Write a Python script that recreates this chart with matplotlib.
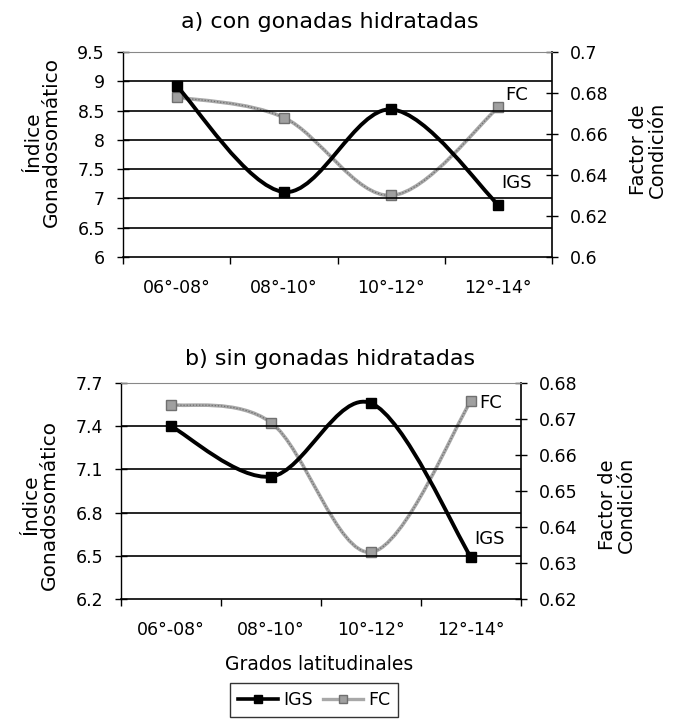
import numpy as np
import matplotlib.pyplot as plt
from matplotlib.path import Path
from matplotlib.patches import PathPatch
from matplotlib.lines import Line2D

plt.rcParams['font.family'] = ['DejaVu Sans']

categorias = ['06°-08°', '08°-10°', '10°-12°', '12°-14°']

# a) con gonadas hidratadas
igs_a = [8.92, 7.11, 8.52, 6.89]
fc_a = [0.678, 0.668, 0.630, 0.673]

# b) sin gonadas hidratadas
igs_b = [7.40, 7.05, 7.56, 6.49]
fc_b = [0.674, 0.669, 0.633, 0.675]

TICK_FS = 12.5


def curva_suave(ax, xs, ys, **kw):
    # linea suavizada tipo Excel (bezier por los puntos)
    pts = np.column_stack([np.asarray(xs, float), np.asarray(ys, float)])
    n = len(pts)
    verts = [pts[0]]
    codes = [Path.MOVETO]
    for i in range(n - 1):
        p0 = pts[max(i - 1, 0)]
        p1 = pts[i]
        p2 = pts[i + 1]
        p3 = pts[min(i + 2, n - 1)]
        verts += [p1 + (p2 - p0) / 6, p2 - (p3 - p1) / 6, p2]
        codes += [Path.CURVE4] * 3
    patch = PathPatch(Path(verts, codes), fill=False, **kw)
    ax.add_patch(patch)
    return patch


def dibujar_fc(ax, x, y):
    curva_suave(ax, x, y, edgecolor='#a8a8a8', lw=2.6, capstyle='round', zorder=3)
    curva_suave(ax, x, y, edgecolor='#6e6e6e', lw=0.9, linestyle=(0, (1, 1.5)), zorder=3)
    ax.plot(x, y, ls='none', marker='s', ms=6.5, mfc='#a0a0a0', mec='#707070', mew=1, zorder=4)


def dibujar_igs(ax, x, y):
    curva_suave(ax, x, y, edgecolor='black', lw=2.8, capstyle='round', zorder=5)
    ax.plot(x, y, ls='none', marker='s', ms=7, color='black', zorder=6)


def panel(pos, igs, fc, ylim, yticks, fclim, fcticks, fcfmt, etq_fc, etq_igs):
    ax = fig.add_axes(pos)
    x = np.arange(len(categorias))
    ax.set_xlim(-0.5, len(categorias) - 0.5)
    ax.set_ylim(*ylim)
    ax.set_yticks(yticks)
    ax.set_yticklabels([f'{v:g}' for v in yticks])
    for v in yticks[1:]:
        ax.axhline(v, color='black', lw=1.2, zorder=1)
    ax.set_xticks(x)
    ax.set_xticklabels(categorias)
    ax.set_xticks(np.arange(-0.5, len(categorias)), minor=True)
    ax.tick_params(axis='x', which='major', length=0, pad=16, labelsize=TICK_FS)
    ax.tick_params(axis='x', which='minor', length=5, width=1, direction='out')
    ax.tick_params(axis='y', length=8, width=1, direction='inout', labelsize=TICK_FS, pad=9)
    ax.spines['top'].set_color('#888888')
    ax.spines['top'].set_linestyle((0, (2, 1)))
    ax.spines['top'].set_linewidth(0.8)
    ax.spines['right'].set_visible(False)
    ax.spines['left'].set_linewidth(1)
    ax.spines['bottom'].set_linewidth(1.2)

    ax2 = ax.twinx()
    ax2.set_ylim(*fclim)
    ax2.set_yticks(fcticks)
    ax2.set_yticklabels([fcfmt.format(v) for v in fcticks])
    ax2.tick_params(axis='y', length=8, width=1, direction='inout', labelsize=TICK_FS, pad=9)
    for s in ['top', 'left', 'bottom']:
        ax2.spines[s].set_visible(False)
    ax2.spines['right'].set_linewidth(1.2)

    dibujar_fc(ax2, x, fc)
    ax.set_zorder(ax2.get_zorder() + 1)
    ax.patch.set_visible(False)
    dibujar_igs(ax, x, igs)

    ax.text(etq_fc[0], etq_fc[1], 'FC', transform=ax.transAxes, fontsize=13,
            ha='center', va='center', zorder=7)
    ax.text(etq_igs[0], etq_igs[1], 'IGS', transform=ax.transAxes, fontsize=13,
            ha='center', va='center', zorder=7)
    return ax


fig = plt.figure(figsize=(6.89, 7.28), dpi=100)
W, H = 689, 728

# panel a
panel([123 / W, 1 - 257 / H, 429 / W, 205 / H], igs_a, fc_a,
      (6, 9.5), [6, 6.5, 7, 7.5, 8, 8.5, 9, 9.5],
      (0.6, 0.7), [0.6, 0.62, 0.64, 0.66, 0.68, 0.7], '{:g}',
      (0.918, 0.79), (0.918, 0.36))
fig.text(330 / W, 1 - 22 / H, 'a) con gonadas hidratadas', ha='center', va='center', fontsize=16)
fig.text(42 / W, 1 - 142 / H, 'Índice\nGonadosomático', rotation=90, ha='center', va='center',
         fontsize=14.5, linespacing=0.95)
fig.text(648 / W, 1 - 150 / H, 'Factor de\nCondición', rotation=90, ha='center', va='center',
         fontsize=14, linespacing=0.95)

# panel b
panel([121 / W, 1 - 599 / H, 400 / W, 216 / H], igs_b, fc_b,
      (6.2, 7.7), [6.2, 6.5, 6.8, 7.1, 7.4, 7.7],
      (0.62, 0.68), [0.62, 0.63, 0.64, 0.65, 0.66, 0.67, 0.68], '{:.2f}',
      (0.924, 0.907), (0.92, 0.28))
fig.text(330 / W, 1 - 359 / H, 'b) sin gonadas hidratadas', ha='center', va='center', fontsize=16)
fig.text(40 / W, 1 - 505 / H, 'Índice\nGonadosomático', rotation=90, ha='center', va='center',
         fontsize=14.5, linespacing=0.95)
fig.text(617 / W, 1 - 505 / H, 'Factor de\nCondición', rotation=90, ha='center', va='center',
         fontsize=14, linespacing=0.95)
fig.text(319 / W, 1 - 665 / H, 'Grados latitudinales', ha='center', va='center', fontsize=13.5)

# leyenda
h_igs = Line2D([], [], color='black', lw=2.6, marker='s', ms=6)
h_fc = Line2D([], [], color='#a8a8a8', lw=2.4, marker='s', ms=6, mfc='#a0a0a0', mec='#707070')
leg = fig.legend([h_igs, h_fc], ['IGS', 'FC'], loc='center', bbox_to_anchor=(314 / W, 1 - 700 / H),
                 ncol=2, fontsize=12.5, frameon=True, fancybox=False, handlelength=2.3,
                 handletextpad=0.3, columnspacing=0.6, borderpad=0.45)
leg.get_frame().set_edgecolor('black')
leg.get_frame().set_linewidth(1)

fig.savefig('out.png', dpi=100)
